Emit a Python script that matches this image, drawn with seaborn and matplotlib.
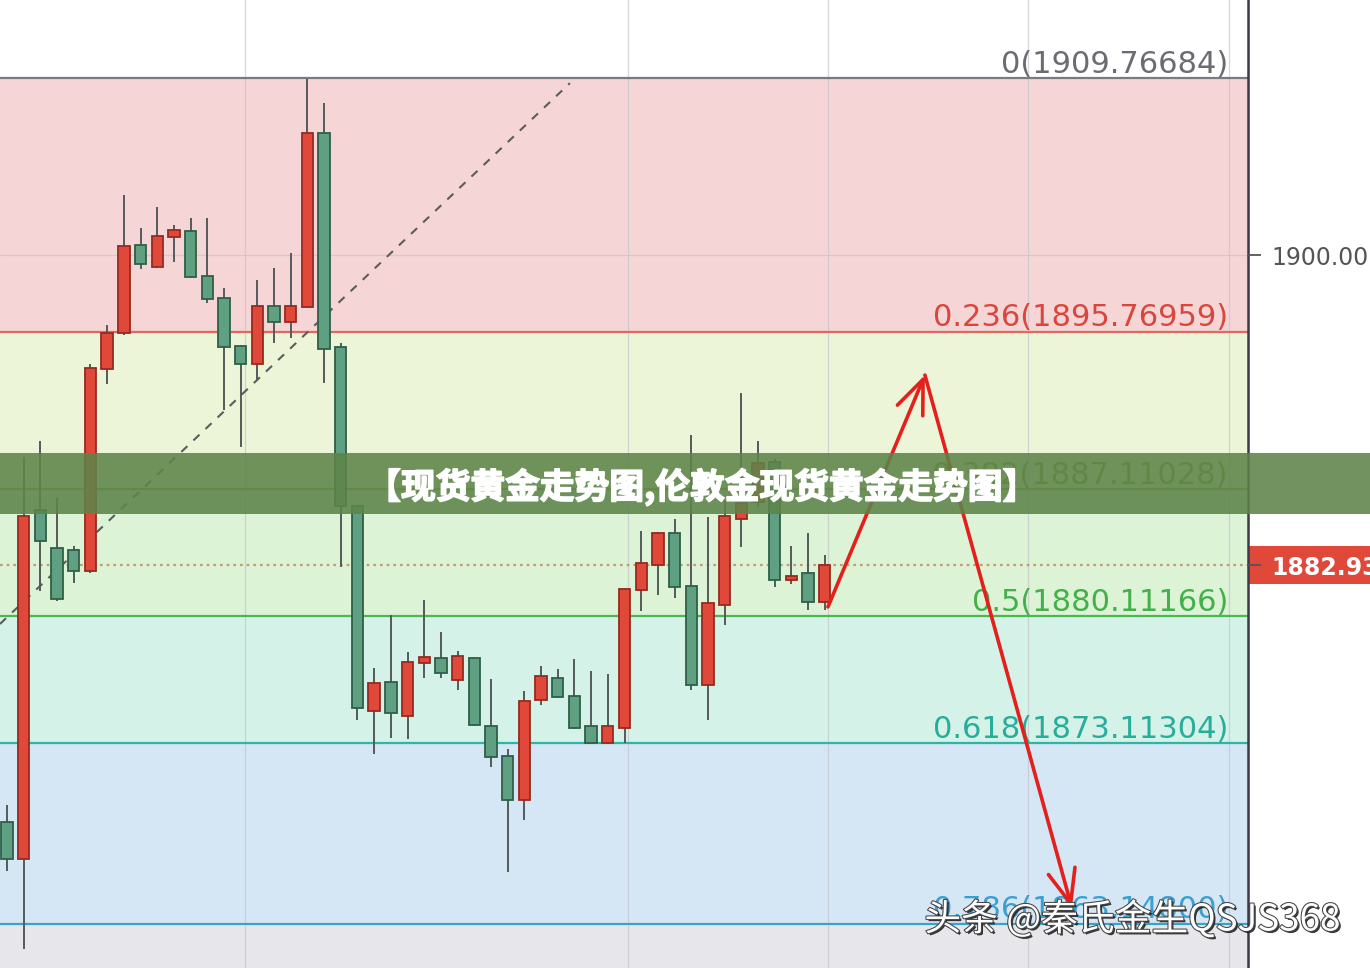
import numpy as np
import matplotlib
matplotlib.use('Agg')
import matplotlib.pyplot as plt
import matplotlib.patheffects as pe
from matplotlib.patches import Rectangle
from matplotlib.transforms import blended_transform_factory
import seaborn as sns

# K线数据
opens = [1868.77, 1866.73, 1885.96, 1883.87, 1883.76, 1882.60, 1893.73, 1895.72, 1900.56, 1899.35,
         1901.01, 1901.34, 1898.86, 1897.64, 1895.00, 1894.01, 1897.20, 1896.32, 1897.15, 1906.74,
         1894.94, 1886.18, 1874.89, 1876.48, 1874.61, 1877.53, 1877.81, 1876.59, 1877.81, 1874.06,
         1872.41, 1869.98, 1875.49, 1876.70, 1875.71, 1874.06, 1873.12, 1873.95, 1881.55, 1882.93,
         1884.69, 1881.77, 1876.32, 1880.73, 1885.47, 1886.40, 1888.61, 1882.10, 1882.49, 1880.89]
highs = [1869.71, 1888.88, 1889.76, 1886.62, 1883.98, 1894.01, 1896.16, 1903.32, 1901.50, 1902.66,
         1901.67, 1902.05, 1902.05, 1898.20, 1895.05, 1898.64, 1899.30, 1900.12, 1909.70, 1908.39,
         1895.16, 1886.18, 1877.26, 1880.18, 1878.14, 1881.00, 1879.24, 1878.19, 1877.86, 1876.65,
         1872.79, 1875.99, 1877.37, 1877.20, 1877.75, 1877.09, 1876.92, 1881.65, 1884.80, 1884.75,
         1885.47, 1890.09, 1885.58, 1886.51, 1892.41, 1889.76, 1888.77, 1883.98, 1884.69, 1883.48]
lows = [1866.07, 1861.77, 1881.50, 1880.95, 1881.94, 1882.49, 1892.91, 1895.60, 1899.24, 1899.30,
        1899.63, 1898.75, 1897.37, 1891.47, 1889.43, 1893.13, 1895.16, 1895.44, 1897.10, 1892.96,
        1882.82, 1874.39, 1872.52, 1873.40, 1873.34, 1876.70, 1876.70, 1876.04, 1874.06, 1871.80,
        1866.01, 1868.88, 1875.22, 1875.60, 1873.90, 1873.10, 1873.10, 1873.12, 1880.40, 1881.28,
        1881.11, 1876.04, 1874.39, 1879.62, 1883.92, 1886.13, 1881.72, 1881.88, 1880.45, 1880.45]
closes = [1866.73, 1885.63, 1884.25, 1881.06, 1882.60, 1893.79, 1895.72, 1900.51, 1899.52, 1901.06,
          1901.39, 1898.80, 1897.59, 1894.94, 1894.01, 1897.20, 1896.32, 1897.20, 1906.74, 1894.83,
          1886.18, 1875.05, 1876.43, 1874.78, 1877.59, 1877.86, 1876.98, 1877.92, 1874.11, 1872.35,
          1869.98, 1875.44, 1876.81, 1875.66, 1873.95, 1873.12, 1874.06, 1881.61, 1883.04, 1884.69,
          1881.72, 1876.32, 1880.84, 1885.63, 1886.35, 1888.55, 1882.10, 1882.33, 1880.89, 1882.93]

# 斐波那契回撤
fib_ratios = ['0', '0.236', '0.382', '0.5', '0.618', '0.786']
fib_prices = [1909.76684, 1895.76959, 1887.11028, 1880.11166, 1873.11304, 1863.14800]
last_price = 1882.93
axis_ticks = [1900.00, 1882.93]
axis_labels = ['1900.00', '1882.930']

# 趋势线和预测箭头
trend_x = [-0.42, 33.73]
trend_y = [1879.68, 1909.49]
arrow_x = [49.19, 55.00, 63.81]
arrow_y = [1880.62, 1893.40, 1864.03]

title = '【现货黄金走势图,伦敦金现货黄金走势图】'
watermark = '头条 @秦氏金生QSJS368'

sns.set_style('white')
plt.rcParams['font.family'] = ['DejaVu Sans', 'Noto Sans CJK SC']

zone_colors = ['#f6d5d6', '#ecf5d8', '#dcf3d6', '#d5f2e9', '#d5e6f5']
below_color = '#e6e6eb'
line_colors = ['#7a7a82', '#de6a5e', '#86ad48', '#4cb653', '#2fb5a4', '#3aa3c6']
text_colors = ['#6b6b72', '#d9463c', '#73a03a', '#44b04a', '#29ad9b', '#3b9fcf']

fig = plt.figure(figsize=(13.7, 9.68), dpi=100)
ax = fig.add_axes([0, 0, 1248 / 1370, 1])
ax.set_xlim(-0.42, 74.36)
ax.set_ylim(1860.72, 1914.07)

# 背景区域
for i in range(len(fib_prices) - 1):
    ax.axhspan(fib_prices[i + 1], fib_prices[i], color=zone_colors[i], lw=0, zorder=0)
ax.axhspan(1860.72, fib_prices[-1], color=below_color, lw=0, zorder=0)

# 网格
for gx in [14.26, 37.21, 49.19, 61.18, 73.22]:
    ax.axvline(gx, color='#c4c4cc', lw=0.9, alpha=0.7, zorder=0.5)
ax.axhline(1900.0, color='#c4c4cc', lw=0.9, alpha=0.7, zorder=0.5)

# 回撤线和标签
for r, p, lc, tc in zip(fib_ratios, fib_prices, line_colors, text_colors):
    ax.axhline(p, color=lc, lw=1.6, zorder=1)
    ax.annotate(f'{r}({p:.5f})', xy=(73.16, p), xytext=(0, 4), textcoords='offset points',
                ha='right', va='baseline', fontsize=22, color=tc, zorder=1.5)

# 当前价虚线
ax.axhline(last_price, color='#c49a72', lw=1.6, ls=(0, (1.2, 1.8)), zorder=1.2)

# 趋势虚线
sns.lineplot(x=trend_x, y=trend_y, ax=ax, color='#5c5c5c', lw=1.5, linestyle=(0, (4, 4)), zorder=1.3)

# K线
o = np.array(opens)
c = np.array(closes)
x = np.arange(len(o))
up = c >= o
ax.vlines(x, lows, highs, color='#555a5a', lw=1.4, zorder=2)
body_h = np.maximum(np.abs(c - o), 0.22)
body_b = np.minimum(o, c)
ax.bar(x[up], body_h[up], bottom=body_b[up], width=0.68, color='#e0493a',
       edgecolor='#962a20', linewidth=1.3, zorder=3)
ax.bar(x[~up], body_h[~up], bottom=body_b[~up], width=0.68, color='#5f9f82',
       edgecolor='#2f5f48', linewidth=1.3, zorder=3)

# 预测箭头
for k in range(2):
    ax.annotate('', xy=(arrow_x[k + 1], arrow_y[k + 1]), xytext=(arrow_x[k], arrow_y[k]),
                arrowprops=dict(arrowstyle='->,head_length=1.1,head_width=0.45', color='#e3201b',
                                lw=2.6, mutation_scale=22, shrinkA=0, shrinkB=0), zorder=4)

# 右侧价格轴
ax.set_xticks([])
ax.yaxis.tick_right()
ax.set_yticks(axis_ticks)
ax.set_yticklabels(axis_labels)
ax.tick_params(axis='y', length=9, width=1.3, color='#555', labelsize=17, labelcolor='#555', pad=8)
for s in ['top', 'left', 'bottom']:
    ax.spines[s].set_visible(False)
ax.spines['right'].set_color('#3a3a48')
ax.spines['right'].set_linewidth(1.8)
ax.yaxis.set_zorder(5)

lbl = ax.get_yticklabels()[1]
lbl.set_color('white')
lbl.set_fontweight('bold')
ax.yaxis.get_major_ticks()[1].tick2line.set_color('white')
trans = blended_transform_factory(ax.transAxes, ax.transData)
ax.add_patch(Rectangle((1.001, last_price - 1.05), 0.2, 2.1, transform=trans, fc='#e0483a',
                       ec='none', clip_on=False, zorder=0.2))

# 标题横幅
fig.add_artist(Rectangle((0, 1 - 514 / 968), 1, 61 / 968, transform=fig.transFigure,
                         fc='#5e8449', ec='none', alpha=0.88, zorder=10))
fig.text(702 / 1370, 1 - 487 / 968, title, ha='center', va='center', fontsize=25,
         fontweight='bold', color='white', family=['Noto Sans CJK SC', 'DejaVu Sans'], zorder=11,
         path_effects=[pe.Stroke(linewidth=1.2, foreground='white'), pe.Normal()])

# 水印
fig.text(1340 / 1370, 1 - 920 / 968, watermark, ha='right', va='center', fontsize=26.5,
         color='white', family=['Noto Sans CJK SC', 'DejaVu Sans'], zorder=11,
         path_effects=[pe.SimplePatchShadow(offset=(1.5, -1.5), shadow_rgbFace='#222', alpha=0.9),
                       pe.Stroke(linewidth=1.5, foreground='#444'), pe.Normal()])

fig.savefig('out.png', dpi=100)
